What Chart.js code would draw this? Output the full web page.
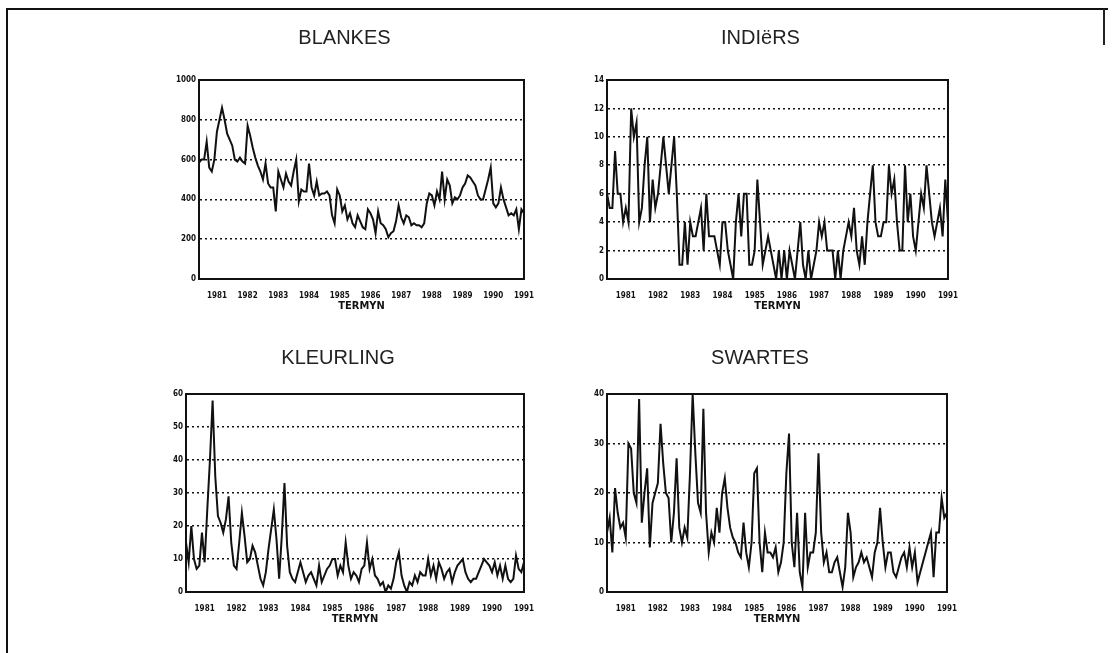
<!DOCTYPE html>
<html>
<head>
<meta charset="utf-8">
<script src="https://cdn.jsdelivr.net/npm/chart.js@4.4.1/dist/chart.umd.min.js"></script>
<style>
  html, body { margin: 0; padding: 0; background: #fff; }
  body { width: 1113px; height: 653px; position: relative; overflow: hidden; }
  .frame { position: absolute; left: 6px; top: 8px; width: 1100px; height: 700px;
           border-left: 2px solid #111; border-top: 2px solid #111; }
  .edge { position: absolute; left: 1103px; top: 9px; width: 2px; height: 36px; background: #222; }
  .panel { position: absolute; }
</style>
</head>
<body>
<div class="frame"></div>
<div class="edge"></div>
<div class="panel" id="p0"><canvas id="c0"></canvas></div>
<div class="panel" id="p1"><canvas id="c1"></canvas></div>
<div class="panel" id="p2"><canvas id="c2"></canvas></div>
<div class="panel" id="p3"><canvas id="c3"></canvas></div>
<script>
// monthly series, June 1980 .. January 1991
const startYear = 1980;
const startMonth = 6;
const yearTicks = [1981, 1982, 1983, 1984, 1985, 1986, 1987, 1988, 1989, 1990, 1991];
const titles = ['BLANKES', 'INDIëRS', 'KLEURLING', 'SWARTES'];
const axisTitle = 'TERMYN';

const blankes = [585, 600, 600, 690, 560, 540, 600, 740, 800, 860, 800, 730, 700, 670, 600, 590,
  610, 590, 580, 770, 720, 660, 610, 570, 540, 500, 580, 480, 460, 460, 340, 540,
  500, 460, 530, 490, 470, 540, 600, 390, 450, 440, 440, 580, 460, 420, 490, 420,
  430, 430, 440, 420, 320, 280, 450, 420, 340, 370, 300, 330, 280, 260, 320, 290,
  260, 250, 350, 330, 300, 230, 340, 280, 270, 250, 210, 230, 240, 290, 370, 310,
  280, 320, 310, 270, 280, 270, 270, 260, 280, 380, 430, 420, 370, 440, 400, 540,
  400, 500, 470, 380, 410, 400, 420, 460, 480, 520, 510, 490, 470, 420, 400, 400,
  450, 500, 560, 380, 360, 380, 460, 400, 360, 320, 330, 320, 350, 250, 350, 330];

const indiers = [6, 5, 5, 9, 6, 6, 4, 5, 4, 12, 10, 11, 4, 5, 8, 10,
  4, 7, 5, 6, 8, 10, 8, 6, 8, 10, 6, 1, 1, 4, 1, 4,
  3, 3, 4, 5, 2, 6, 3, 3, 3, 2, 1, 4, 4, 2, 1, 0,
  4, 6, 3, 6, 6, 1, 1, 2, 7, 4, 1, 2, 3, 2, 1, 0,
  2, 0, 2, 0, 2, 1, 0, 2, 4, 1, 0, 2, 0, 1, 2, 4,
  3, 4, 2, 2, 2, 0, 2, 0, 2, 3, 4, 3, 5, 2, 1, 3,
  1, 4, 6, 8, 4, 3, 3, 4, 4, 8, 6, 7, 4, 2, 2, 8,
  4, 6, 3, 2, 4, 6, 5, 8, 6, 4, 3, 4, 5, 3, 7, 4];

const kleurling = [15, 9, 20, 10, 7, 8, 18, 9, 25, 40, 58, 35, 23, 21, 18, 22,
  29, 15, 8, 7, 15, 24, 17, 9, 10, 14, 12, 8, 4, 2, 6, 13,
  19, 25, 16, 4, 17, 33, 14, 6, 4, 3, 6, 9, 6, 3, 5, 6,
  4, 2, 8, 3, 5, 7, 8, 10, 10, 5, 8, 6, 15, 8, 4, 6,
  5, 3, 7, 8, 15, 7, 10, 5, 4, 2, 3, 0, 2, 1, 4, 9,
  12, 5, 2, 0, 3, 2, 5, 3, 6, 5, 5, 10, 5, 8, 4, 9,
  7, 4, 6, 7, 3, 6, 8, 9, 10, 6, 4, 3, 4, 4, 6, 8,
  10, 9, 8, 6, 9, 5, 8, 4, 8, 4, 3, 4, 11, 7, 6, 9];

const swartes = [12, 15, 8, 21, 16, 13, 14, 11, 30, 29, 20, 18, 39, 14, 20, 25,
  9, 18, 20, 22, 34, 26, 20, 19, 10, 16, 27, 13, 10, 13, 11, 24,
  40, 28, 18, 16, 37, 16, 8, 12, 10, 17, 12, 20, 23, 17, 13, 11,
  10, 8, 7, 14, 8, 5, 10, 24, 25, 10, 4, 12, 8, 8, 7, 9,
  4, 6, 10, 24, 32, 10, 5, 16, 4, 1, 16, 5, 8, 8, 12, 28,
  12, 6, 8, 4, 4, 6, 7, 4, 1, 5, 16, 12, 3, 5, 6, 8,
  6, 7, 5, 3, 8, 10, 17, 10, 5, 8, 8, 4, 3, 5, 7, 8,
  5, 9, 5, 8, 2, 4, 6, 8, 10, 12, 3, 12, 12, 19, 15, 16];

const series = [blankes, indiers, kleurling, swartes];
const yMax = [1000, 14, 60, 40];
const yStep = [200, 2, 10, 10];

// plot box of every panel in page pixels
const boxes = [
  { l: 199, r: 524, t: 80, b: 279, tc: 38 },
  { l: 607, r: 948, t: 80, b: 279, tc: 38 },
  { l: 186, r: 524, t: 394, b: 592, tc: 358 },
  { l: 607, r: 947, t: 394, b: 592, tc: 358 }
];

const YW = 34, XH = 34, PR = 14, TF = 20, TPT = 4;

const framePlugin = {
  id: 'frame',
  afterDraw(chart) {
    const a = chart.chartArea, ctx = chart.ctx;
    ctx.save();
    ctx.strokeStyle = '#111';
    ctx.lineWidth = 2;
    ctx.strokeRect(a.left, a.top, a.right - a.left, a.bottom - a.top);
    ctx.restore();
  }
};

series.forEach((vals, k) => {
  const bx = boxes[k];
  const top = bx.tc - TF * 0.6 - TPT;
  const titleBottom = bx.t - (top + TPT + TF * 1.2);
  const div = document.getElementById('p' + k);
  div.style.left = (bx.l - YW) + 'px';
  div.style.top = top + 'px';
  div.style.width = (bx.r - bx.l + YW + PR) + 'px';
  div.style.height = (bx.b + XH - top) + 'px';

  const pts = vals.map((v, i) => ({ x: startYear + (startMonth - 1 + i) / 12, y: v }));
  const xMin = pts[0].x, xMax = pts[pts.length - 1].x;

  new Chart(document.getElementById('c' + k), {
    type: 'line',
    data: {
      datasets: [{
        data: pts,
        borderColor: '#111',
        borderWidth: 2,
        pointRadius: 0,
        tension: 0,
        fill: false
      }]
    },
    options: {
      responsive: true,
      maintainAspectRatio: false,
      animation: false,
      layout: { padding: { left: 0, right: PR, top: 0, bottom: 0 } },
      plugins: {
        legend: { display: false },
        tooltip: { enabled: false },
        title: {
          display: true,
          text: titles[k],
          color: '#222',
          font: { family: 'Liberation Sans', size: TF, weight: 'normal', lineHeight: 1.2 },
          padding: { top: TPT, bottom: titleBottom }
        }
      },
      scales: {
        x: {
          type: 'linear',
          min: xMin,
          max: xMax,
          afterBuildTicks: s => { s.ticks = yearTicks.map(v => ({ value: v })); },
          afterFit: s => { s.height = XH; },
          grid: { display: false },
          border: { display: true, color: '#111', width: 2 },
          ticks: {
            color: '#111',
            padding: 4,
            maxRotation: 0,
            autoSkip: false,
            font: { family: 'DejaVu Sans Condensed', size: 8, weight: 'bold' },
            callback: v => String(v)
          },
          title: {
            display: true,
            text: axisTitle,
            color: '#111',
            padding: { top: 0, bottom: 0 },
            font: { family: 'DejaVu Sans Condensed', size: 11, weight: 'bold' }
          }
        },
        y: {
          min: 0,
          max: yMax[k],
          afterFit: s => { s.width = YW; },
          border: { display: true, color: '#111', width: 2, dash: [2, 3] },
          grid: {
            drawTicks: false,
            lineWidth: 1.6,
            color: c => (c.tick.value === 0 || c.tick.value === yMax[k]) ? 'rgba(0,0,0,0)' : '#111'
          },
          ticks: {
            stepSize: yStep[k],
            color: '#111',
            padding: 3,
            font: { family: 'DejaVu Sans Condensed', size: 8, weight: 'bold' },
            callback: v => String(v)
          }
        }
      }
    },
    plugins: [framePlugin]
  });
});
</script>
</body>
</html>
